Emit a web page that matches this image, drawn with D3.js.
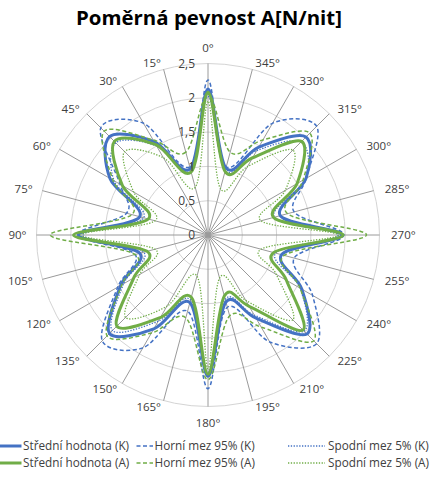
<!DOCTYPE html>
<html><head><meta charset="utf-8">
<script src="https://cdn.jsdelivr.net/npm/d3@7"></script>
<style>html,body{margin:0;padding:0;background:#fff;} svg{display:block;font-family:"Open Sans",sans-serif;}</style>
</head><body><svg id="c" width="430" height="481"></svg>
<script>
// ---- data ----
const angles = [0,15,30,45,60,75,90,105,120,135,150,165,180,195,210,225,240,255,270,285,300,315,330,345];
const tickValues = [0,0.5,1,1.5,2,2.5];
const tickLabels = ["0","0,5","1","1,5","2","2,5"];
const seriesNames = ["Střední hodnota (K)","Horní mez 95% (K)","Spodní mez 5% (K)","Střední hodnota (A)","Horní mez 95% (A)","Spodní mez 5% (A)"];
const kMean  = [2.13,1.00,1.57,2.03,1.65,1.03,1.89,1.03,1.47,2.03,1.58,1.02,2.06,1.01,1.40,2.04,1.58,1.11,1.95,1.09,1.65,2.02,1.48,1.01];
const kUpper = [2.26,1.03,1.88,2.21,1.48,1.23,1.90,1.10,1.52,2.18,1.90,1.15,2.24,1.09,1.80,2.24,1.76,1.30,1.98,1.30,1.65,2.24,1.88,1.03];
const kLower = [2.02,0.97,1.50,1.90,1.58,0.97,1.83,0.97,1.42,1.97,1.45,0.98,2.00,0.97,1.35,1.98,1.55,1.02,1.90,1.00,1.65,1.92,1.42,0.97];
const aMean  = [2.08,0.95,1.52,1.93,1.44,0.90,1.96,0.92,1.25,1.88,1.39,0.94,2.03,0.92,1.20,1.96,1.32,0.99,1.97,0.99,1.50,1.93,1.30,0.96];
const aUpper = [2.05,1.25,1.60,2.14,1.60,1.15,2.30,1.10,1.45,2.08,1.65,1.25,2.11,1.22,1.55,2.18,1.55,1.15,2.31,1.20,1.60,2.10,1.60,1.25];
const aLower = [1.95,0.72,1.30,1.72,1.25,0.80,1.85,0.80,1.15,1.70,1.20,0.62,1.95,0.65,1.10,1.75,1.15,0.80,1.90,0.80,1.30,1.75,1.15,0.70];

// ---- layout ----
const svg = d3.select("#c");
svg.append("rect").attr("width",430).attr("height",481).attr("fill","#fff");
const cx = 208, cy = 235, R = 171.5;
const rScale = d3.scaleLinear().domain([0, 2.5]).range([0, R]);
const aScale = d3.scaleLinear().domain([0, 360]).range([0, -2 * Math.PI]);
const BLUE = "#4472C4", GREEN = "#70AD47", TXT = "#404040";

// title
const title = svg.append("text").attr("x", 209).attr("y", 24.5).attr("text-anchor", "middle")
  .attr("font-weight", "bold").attr("font-size", 19).attr("fill", "#000").text("Poměrná pevnost A[N/nit]");
(function fit(){ const w = title.node().getComputedTextLength(); title.attr("font-size", 19 * 266 / w); })();

const g = svg.append("g").attr("transform", `translate(${cx},${cy})`);

// grid circles
g.selectAll("circle.grid").data(tickValues.slice(1)).join("circle").attr("class","grid")
  .attr("r", d => rScale(d)).attr("fill", "none").attr("stroke", "#d4d4d4").attr("stroke-width", 1);
// spokes
g.selectAll("line.spoke").data(angles).join("line").attr("class","spoke")
  .attr("x1", 0).attr("y1", 0)
  .attr("x2", d => rScale(2.5) * Math.sin(aScale(d)))
  .attr("y2", d => -rScale(2.5) * Math.cos(aScale(d)))
  .attr("stroke", "#9a9a9a").attr("stroke-width", 1);

// series
const line = d3.lineRadial()
  .angle((d, i) => aScale(angles[i]))
  .radius(d => rScale(d))
  .curve(d3.curveCardinalClosed.tension(0));

const series = [
  {name: seriesNames[1], vals: kUpper, color: BLUE,  w: 1.5, dash: "4,2.5"},
  {name: seriesNames[2], vals: kLower, color: BLUE,  w: 1.3, dash: "1.3,1.5"},
  {name: seriesNames[0], vals: kMean,  color: BLUE,  w: 3,   dash: null},
  {name: seriesNames[4], vals: aUpper, color: GREEN, w: 1.5, dash: "4,2.5"},
  {name: seriesNames[5], vals: aLower, color: GREEN, w: 1.3, dash: "1.3,1.5"},
  {name: seriesNames[3], vals: aMean,  color: GREEN, w: 3,   dash: null}
];
g.selectAll("path.series").data(series).join("path").attr("class","series")
  .attr("d", d => line(d.vals))
  .attr("fill", "none").attr("stroke", d => d.color).attr("stroke-width", d => d.w)
  .attr("stroke-dasharray", d => d.dash).attr("stroke-linejoin", "round");

// radial tick labels
g.selectAll("text.tick").data(tickValues).join("text").attr("class","tick")
  .attr("x", -13).attr("y", d => -rScale(d)).attr("dy", "0.36em")
  .attr("text-anchor", "end").attr("font-size", 12).attr("fill", TXT)
  .text((d, i) => tickLabels[i]);

// angle labels
g.selectAll("text.ang").data(angles).join("text").attr("class","ang")
  .attr("font-size", 11.5).attr("fill", TXT).attr("dy", "0.36em")
  .text(d => d + "°")
  .each(function(d){
    const s = Math.sin(aScale(d)), c = -Math.cos(aScale(d));
    const t = d3.select(this);
    if (Math.abs(s) < 1e-6) {
      t.attr("text-anchor", "middle").attr("x", 0).attr("y", c * 187.5);
    } else if (s > 0) {
      t.attr("text-anchor", "start").attr("x", s * 183).attr("y", c * 178);
    } else {
      t.attr("text-anchor", "end").attr("x", s * 181.5).attr("y", c * 178);
    }
  });

// legend
const legendRows = [446, 463];
const legendCols = [
  {x1: -5, x2: 21.5, tx: 23},
  {x1: 136.5, x2: 153, tx: 154.5},
  {x1: 288, x2: 325, tx: 328}
];
const lg = svg.append("g");
const legendOrder = [2, 0, 1, 5, 3, 4]; // mean, upper, lower in each row
legendOrder.forEach((si, k) => {
  const row = Math.floor(k / 3), col = k % 3;
  const s = series[si];
  const y = legendRows[row];
  const c = legendCols[col];
  lg.append("line").attr("x1", c.x1).attr("x2", c.x2).attr("y1", y).attr("y2", y)
    .attr("stroke", s.color).attr("stroke-width", s.dash ? 1.5 : 3).attr("stroke-dasharray", s.dash);
  lg.append("text").attr("x", c.tx).attr("y", y).attr("dy", "0.36em")
    .attr("font-size", 12).attr("fill", TXT).text(s.name);
});
(function(){
  const t = lg.selectAll("text");
  const w = t.nodes()[0].getComputedTextLength();
  let fs = 12 * 110 / w;
  t.attr("font-size", fs);
  let maxRight = 0;
  t.each(function(){ maxRight = Math.max(maxRight, +this.getAttribute("x") + this.getComputedTextLength()); });
  if (maxRight > 429) { fs = fs * (429 - 328) / (maxRight - 328); t.attr("font-size", fs); }
})();
</script></body></html>
